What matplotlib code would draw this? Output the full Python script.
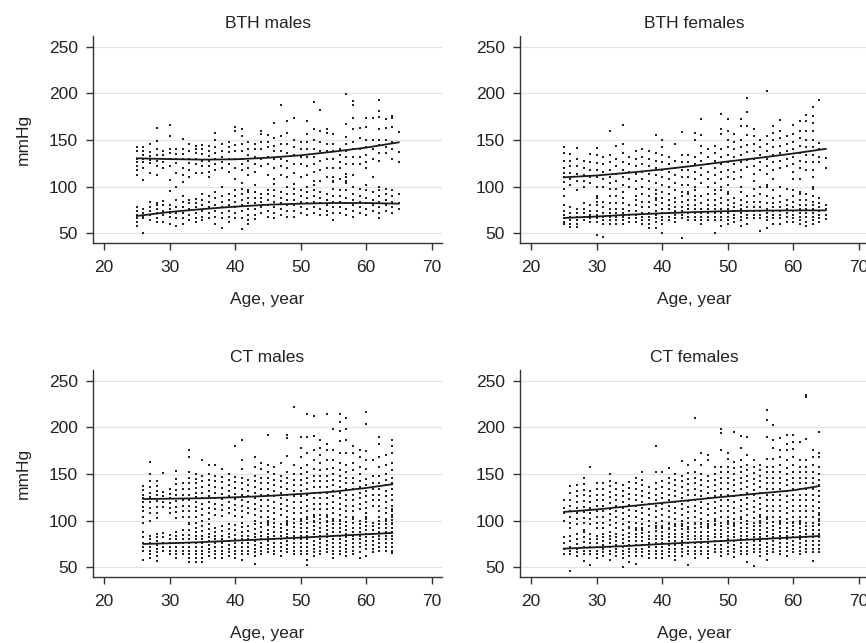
import matplotlib.pyplot as plt

plt.rcParams['font.family'] = ['Liberation Sans', 'DejaVu Sans']
plt.rcParams['font.size'] = 12.5

# ---- data: "age: values" per column ----
bth_m_sbp = [
    "25: 143 138 130 126 122 118 112", "26: 142 138 134 130 126 120 107",
    "27: 146 137 133 129 125 115", "28: 163 149 140 134 128 122 112",
    "29: 138 134 126 120", "30: 166 154 140 136 130 122 107 95",
    "31: 140 135 130 125 115 100", "32: 151 140 135 130 120 112 105",
    "33: 146 138 130 125 118 110", "34: 144 140 136 130 124 115",
    "35: 145 140 135 128 122 115", "36: 144 138 133 128 122 116 110",
    "37: 158 150 142 136 130 124 118", "38: 146 138 132 126 120 100",
    "39: 148 142 137 130 124 116", "40: 164 160 145 138 130 120 108",
    "41: 162 154 146 138 130 124 118 104", "42: 148 140 134 128 120 112 96",
    "43: 146 140 132 124 116 102", "44: 160 156 148 140 130 122",
    "45: 155 148 142 132 124 112", "46: 168 152 144 138 130 120 108 103",
    "47: 188 154 146 138 130 122 112", "48: 170 158 146 136 128 120 110 100",
    "49: 174 150 142 134 124 115 103", "50: 148 140 132 124 110",
    "51: 170 156 148 140 132 122 112", "52: 191 162 150 140 132 124 116 106",
    "53: 182 160 148 138 128 118 106", "54: 162 158 146 138 130 120 110",
    "55: 156 146 138 130 120 110 105", "56: 140 134 126 120 108",
    "57: 199 167 153 146 138 132 124 114 106", "58: 192 188 174 162 148 140 132 124 112",
    "59: 163 152 140 132 124", "60: 174 164 150 142 134 126 120",
    "61: 174 150 140 130 110", "62: 193 181 175 162 150 145 136 128",
    "63: 172 163 150 142 136", "64: 176 174 164 148 140 130",
    "65: 159 137 126",
]
bth_m_dbp = [
    "25: 78 74 70 66 62 58", "26: 76 72 68 66 50", "27: 84 78 74 70 64",
    "28: 83 80 76 72 66 62", "29: 85 80 74 70 62", "30: 95 80 76 72 68 60",
    "31: 86 78 72 66 58", "32: 90 84 78 72 66 60", "33: 86 82 76 70 64",
    "34: 87 82 78 72 66 62", "35: 92 86 80 74 68 64", "36: 90 84 78 72 66",
    "37: 94 88 80 74 68 60", "38: 100 90 84 78 72 66 56", "39: 92 86 80 74 68 62",
    "40: 96 90 84 78 72 66", "41: 98 92 86 80 74 66 55", "42: 94 88 82 76 70 64 60",
    "43: 102 94 88 82 76 70 65", "44: 92 88 84 78 72", "45: 96 92 86 80 74 68",
    "46: 96 90 84 78 72 66", "47: 94 88 82 76 70", "48: 100 92 86 80 74 68",
    "49: 98 92 86 80 74 68", "50: 96 90 84 78 72", "51: 100 94 88 82 76 70",
    "52: 102 96 90 84 78 72", "53: 94 88 82 76 70", "54: 92 86 80 74 70",
    "55: 106 98 90 84 78 72 64", "56: 96 90 84 78 72", "57: 110 104 96 88 82 76 70",
    "58: 100 92 86 80 74 68", "59: 98 90 84 78 72", "60: 102 96 88 82 76 70",
    "61: 110 94 86 80 74", "62: 100 96 90 84 78 72 66", "63: 98 92 86 80 74",
    "64: 96 90 84 78 72", "65: 92 82 76",
]

bth_f_sbp = [
    "25: 142 136 128 120 115 110 105 98 90", "26: 135 128 122 115 108 102",
    "27: 141 130 122 114 106 96", "28: 128 120 112 106 100",
    "29: 135 126 118 110 104", "30: 141 134 125 118 110 100 90 84",
    "31: 132 124 116 108 100", "32: 160 134 126 118 110 104 98",
    "33: 144 130 122 114 106 98 90", "34: 166 146 136 126 118 110 102 94",
    "35: 132 124 116 108 100", "36: 138 130 122 114 106 98 90",
    "37: 140 132 124 116 108 100 92", "38: 138 130 122 114 106 98 90 84",
    "39: 155 136 128 120 112 104 96 88", "40: 150 142 134 126 118 110 102 94",
    "41: 132 124 116 108 100 92", "42: 146 128 120 112 104 96 88",
    "43: 159 134 126 118 110 102 94", "44: 134 126 118 110 102 94",
    "45: 158 150 132 124 116 108 100 90", "46: 172 155 144 136 128 120 112 104",
    "47: 140 132 124 116 108 100 92", "48: 144 136 128 120 112 104 96",
    "49: 178 162 156 140 132 124 116 108 100", "50: 172 160 150 142 134 126 118 110 102 94",
    "51: 156 148 140 132 124 116 108", "52: 173 165 150 142 134 126 118 110 100",
    "53: 195 180 165 155 145 137 129 121", "54: 162 154 146 138 130 122 114 106 98",
    "55: 150 142 134 126 118 100", "56: 202 154 146 138 130 122 114 102",
    "57: 165 158 150 142 134 126 118 108", "58: 171 160 152 144 136 128 120 100",
    "59: 154 146 138 130 122 98", "60: 166 156 148 140 132 124 116 108",
    "61: 170 160 152 144 136 128 120 108 92", "62: 177 170 160 150 142 134 126 118 92",
    "63: 185 176 168 160 150 142 134 126 118 110 100", "64: 193 147 140 132 126",
    "65: 131 120",
]
bth_f_dbp = [
    "25: 80 74 70 66 62 60", "26: 78 72 68 64 60 57", "27: 76 72 68 64 60 57",
    "28: 82 76 72 68 64", "29: 80 74 70 66 62", "30: 88 80 74 70 66 62 48",
    "31: 84 78 72 68 64 60 46", "32: 90 82 76 72 68 64 60", "33: 82 76 72 68 64 60",
    "34: 88 82 76 72 68 64 60", "35: 80 74 70 66 62", "36: 86 80 74 70 66 62",
    "37: 92 84 78 72 68 64 60", "38: 90 84 78 72 68 64 60 56",
    "39: 92 86 80 74 70 66 62 56", "40: 88 82 76 72 68 64 60 50",
    "41: 86 80 76 72 68 64", "42: 84 78 74 70 66 62", "43: 90 84 78 74 70 66 45",
    "44: 92 86 80 76 72 68 64", "45: 96 86 80 76 72 68 64", "46: 90 82 76 72 68 64 60",
    "47: 86 80 76 72 68 64", "48: 92 86 80 76 72 68 64 50",
    "49: 96 88 82 76 72 68 64 58", "50: 92 86 80 76 72 68 64 60",
    "51: 88 82 78 74 70 66 62", "52: 94 86 80 76 72 68 64 58",
    "53: 90 84 78 74 70 66 60", "54: 98 90 84 78 74 70 66",
    "55: 92 84 78 74 70 66 52", "56: 100 90 82 76 72 68 64 56",
    "57: 96 88 82 78 74 70 66 60", "58: 90 84 78 74 70 66 60",
    "59: 98 86 80 76 72 68 62", "60: 96 90 84 78 74 70 66 62",
    "61: 94 86 80 76 72 68 64 60", "62: 92 86 80 76 72 68 62 58",
    "63: 98 90 84 80 76 72 68 64 60", "64: 88 82 78 74 70 66 62",
    "65: 80 76 70 65",
]

ct_m_sbp = [
    "26: 137 133 128 124 120 115 110 104 98", "27: 163 150 142 136 130 125 120 114 108 100",
    "28: 142 137 132 127 121 115 108 103", "29: 151 131 126 120 115",
    "30: 134 129 124 119 114 108", "31: 153 145 139 133 127 121 115 109 103",
    "32: 140 134 128 122 116 110 104", "33: 176 168 152 146 140 134 128 122 116 110 104 98",
    "34: 150 145 140 135 130 125 120 115 110 104 98", "35: 165 148 142 136 130 124 118 112 106 100",
    "36: 160 150 144 138 132 126 120 114 108 102", "37: 160 148 142 136 130 124 118 112 106",
    "38: 155 147 141 135 129 123 117 111 105", "39: 150 144 138 132 126 120 114 108",
    "40: 180 147 141 135 129 123 117 111 105", "41: 186 165 155 146 140 134 128 122 116 110 104",
    "42: 144 138 132 126 120 114 108", "43: 168 158 148 142 136 130 124 118 112 106 100",
    "44: 162 155 146 140 134 128 122 116 110 104",
    "45: 192 160 152 146 140 134 128 122 116 110 104 98",
    "46: 158 150 144 138 132 126 120 114 108 102", "47: 162 148 142 136 130 124 118 112 106",
    "48: 192 188 169 152 146 140 134 128 122 116 110 104 98",
    "49: 222 160 150 144 138 132 126 120 114 108 102",
    "50: 190 178 168 156 150 144 138 132 126 120 114 108 102",
    "51: 214 190 172 160 152 146 140 134 128 122 116 110 104 98",
    "52: 212 191 176 165 155 148 142 136 130 124 118 112 106 100",
    "53: 186 178 170 162 154 148 142 136 130 124 118 112 106",
    "54: 214 182 176 165 155 148 142 136 130 124 118 112 106 100",
    "55: 198 176 165 156 150 144 138 132 126 120 114 108 102",
    "56: 214 206 196 185 172 162 154 148 142 136 130 124 118 112 106 100",
    "57: 210 198 186 172 160 152 146 140 134 128 122 116 110 104",
    "58: 180 172 162 154 146 140 134 128 122 116 110 104",
    "59: 176 168 158 150 142 136 130 124 118 112",
    "60: 216 203 175 165 155 145 138 132 126 120 114 108 102",
    "61: 165 148 140 134 128 122 116", "62: 190 182 168 158 148 140 134 128 122 116 110 104",
    "63: 170 160 150 144 138 132 126 120 114 108 102",
    "64: 186 180 172 162 154 146 140 134 128 122 116 110 104 98",
]
ct_m_dbp = [
    "26: 88 82 76 72 68 58", "27: 84 80 76 72 68 64 60", "28: 86 82 78 74 70 66 62 57",
    "29: 87 82 76 72 68", "30: 85 80 76 72 68 64", "31: 88 84 80 76 72 68 64 60",
    "32: 90 85 80 76 72 68 64", "33: 96 90 85 80 76 72 68 64 60 56",
    "34: 92 88 84 80 76 72 68 64 60 56", "35: 94 89 84 80 76 72 68 64 60 56",
    "36: 96 91 86 82 78 74 70 66 62", "37: 92 88 84 80 76 72 68 64 60",
    "38: 94 89 84 80 76 72 68 64 60", "39: 96 91 86 82 78 74 70 66 62",
    "40: 95 90 85 80 76 72 68 64 60", "41: 98 93 88 84 80 76 72 68 64 58",
    "42: 94 89 84 80 76 72 68 64", "43: 96 91 86 82 78 74 70 66 62 54",
    "44: 98 93 88 84 80 76 72 68 64", "45: 100 95 90 86 82 78 74 70 66",
    "46: 98 93 88 84 80 76 72 68 64", "47: 96 92 88 84 80 76 72 68 62",
    "48: 100 95 90 86 82 78 74 70 66", "49: 98 93 88 84 80 76 72 68 64",
    "50: 100 96 92 88 84 80 76 72 68 64", "51: 102 97 92 88 84 80 76 72 68 64 58 52",
    "52: 104 99 94 90 86 82 78 74 70 66 62", "53: 102 97 92 88 84 80 76 72 68 64",
    "54: 104 99 94 90 86 82 78 74 70 66", "55: 100 96 92 88 84 80 76 72 68 64 60",
    "56: 106 101 96 92 88 84 80 76 72 68 64", "57: 104 99 94 90 86 82 78 74 70 66 62",
    "58: 102 97 92 88 84 80 76 72 68 64", "59: 100 96 92 88 84 80 76 72 66 60",
    "60: 104 99 94 90 86 82 78 74 70 62", "61: 98 94 90 86 82 78 74 70 66",
    "62: 100 96 92 88 84 80 76 72 68", "63: 100 96 92 88 84 80 76 72 68",
    "64: 112 106 101 96 92 88 84 80 76 72 68 65",
]

ct_f_sbp = [
    "25: 122 114 108 100", "26: 137 130 122 116 110 104 98 92",
    "27: 138 132 126 120 114 108 102 96", "28: 146 139 133 127 121 115 109 103 97 90",
    "29: 158 132 126 120 114 108 102 96", "30: 140 134 128 122 116 110 104 98 92",
    "31: 140 134 128 122 116 110 104 98 92", "32: 150 143 137 131 125 119 113 107 101 95",
    "33: 140 134 128 122 116 110 104 98 92", "34: 138 132 126 120 114 108 102 96 90",
    "35: 141 135 129 123 117 111 105 99 93 87", "36: 146 140 134 128 122 116 110 104 98 92 86",
    "37: 152 144 138 132 126 120 114 108 102 96 90", "38: 136 130 124 118 112 106 100 94 88",
    "39: 180 152 140 134 128 122 116 110 104 98 92", "40: 152 142 136 130 124 118 112 106 100 94 88",
    "41: 156 146 140 134 128 122 116 110 104 98 92", "42: 150 144 138 132 126 120 114 108 102 96 90",
    "43: 164 148 142 136 130 124 118 112 106 100 94",
    "44: 160 151 145 139 133 127 121 115 109 103 97 91",
    "45: 210 165 152 146 140 134 128 122 116 110 104 98",
    "46: 173 160 150 144 138 132 126 120 114 108 102 96",
    "47: 170 165 148 142 136 130 124 118 112 106 100 94",
    "48: 158 150 144 138 132 126 120 114 108 102 96",
    "49: 198 194 176 158 152 146 140 134 128 122 116 110 104 98",
    "50: 173 166 158 152 146 140 134 128 122 116 110 104 98",
    "51: 195 163 156 150 144 138 132 126 120 114 108 102 96",
    "52: 191 178 165 158 152 146 140 134 128 122 116 110 104 98",
    "53: 190 170 160 154 148 142 136 130 124 118 112 106 100",
    "54: 165 157 151 145 139 133 127 121 115 109 103 97",
    "55: 160 154 148 142 136 130 124 118 112 106 100 94",
    "56: 218 208 190 166 158 152 146 140 134 128 122 116 110 104 98",
    "57: 202 186 178 166 158 152 146 140 134 128 122 116 110 104",
    "58: 189 176 168 160 152 146 140 134 128 122 116 110 104 98",
    "59: 192 182 176 165 156 150 144 138 132 126 120 114 108",
    "60: 192 184 177 168 160 152 146 140 134 128 122 116 110 104 98",
    "61: 184 165 158 152 146 140 134 128 122 116 110 104 98",
    "62: 235 232 187 165 158 152 146 140 134 128 122 116 110 104 98",
    "63: 176 168 160 152 146 140 134 128 122 116 110 104 98",
    "64: 195 172 168 158 150 144 138 132 126 120 114 108 102 96",
]
ct_f_dbp = [
    "25: 82 76 70 64", "26: 84 78 72 68 64 46", "27: 86 80 75 70 66 62",
    "28: 88 82 77 72 68 64 57", "29: 86 80 76 72 68 64 53", "30: 84 80 76 72 68 64 60",
    "31: 86 82 78 74 70 66 62", "32: 88 84 80 76 72 68 64 58", "33: 86 82 78 74 70 66 62",
    "34: 90 85 80 76 72 68 64 60 50", "35: 92 87 82 78 74 70 66 62 56",
    "36: 90 86 82 78 74 70 66 62 54", "37: 92 87 82 78 74 70 66 62",
    "38: 88 84 80 76 72 68 64 60", "39: 94 89 84 80 76 72 68 64 60",
    "40: 92 88 84 80 76 72 68 64 60", "41: 96 91 86 82 78 74 70 66 62",
    "42: 94 90 86 82 78 74 70 66 62 58", "43: 96 91 86 82 78 74 70 66 62",
    "44: 98 93 88 84 80 76 72 68 64 53", "45: 96 92 88 84 80 76 72 68 64 60",
    "46: 98 93 88 84 80 76 72 68 64", "47: 96 92 88 84 80 76 72 68 64 60",
    "48: 100 95 90 86 82 78 74 70 66", "49: 98 94 90 86 82 78 74 70 66 62",
    "50: 100 96 92 88 84 80 76 72 68 64", "51: 98 94 90 86 82 78 74 70 66 61",
    "52: 102 97 92 88 84 80 76 72 68 64", "53: 100 96 92 88 84 80 76 72 68 64 56",
    "54: 98 94 90 86 82 78 74 70 66 51", "55: 104 98 94 90 86 82 78 74 70 66 62",
    "56: 102 97 92 88 84 80 76 72 68 64 58", "57: 104 99 94 90 86 82 78 74 70 66",
    "58: 100 96 92 88 84 80 76 72 68 64", "59: 102 97 92 88 84 80 76 72 68 62",
    "60: 104 99 94 90 86 82 78 74 70 66", "61: 100 96 92 88 84 80 76 72 68 64",
    "62: 98 94 90 86 82 78 74 70 66", "63: 104 98 94 90 86 82 78 74 70 66 57",
    "64: 106 100 95 90 86 82 78 74 70 66",
]

# fitted curves
fit_ages_bth = [25, 30, 35, 40, 45, 50, 55, 60, 65]
bth_m_sbp_fit = [130.4, 129.5, 129.0, 129.3, 131.0, 133.6, 137.5, 141.8, 147.5]
bth_m_dbp_fit = [68.6, 72.9, 76.0, 78.6, 80.7, 81.8, 82.5, 82.5, 81.8]
bth_f_sbp_fit = [110.0, 112.0, 115.0, 118.5, 122.5, 127.0, 131.0, 135.5, 140.5]
bth_f_dbp_fit = [66.5, 68.0, 70.0, 71.5, 72.8, 73.8, 74.3, 74.6, 74.6]
fit_ages_ct_m = [26, 30, 35, 40, 45, 50, 55, 60, 64]
ct_m_sbp_fit = [123.2, 123.5, 124.0, 125.0, 126.5, 128.6, 131.0, 135.0, 139.0]
ct_m_dbp_fit = [75.0, 75.8, 77.0, 78.6, 80.2, 81.8, 83.6, 85.4, 86.8]
fit_ages_ct_f = [25, 30, 35, 40, 45, 50, 55, 60, 64]
ct_f_sbp_fit = [109.3, 112.0, 115.5, 119.0, 122.5, 126.0, 129.3, 132.5, 137.0]
ct_f_dbp_fit = [70.0, 71.5, 73.0, 75.0, 76.8, 78.5, 80.3, 82.0, 83.5]


def to_points(rows):
    xs, ys = [], []
    for row in rows:
        age, vals = row.split(':')
        for v in vals.split():
            xs.append(int(age))
            ys.append(float(v))
    return xs, ys


panels = [
    ("BTH males", bth_m_sbp, bth_m_dbp, fit_ages_bth, bth_m_sbp_fit, bth_m_dbp_fit),
    ("BTH females", bth_f_sbp, bth_f_dbp, fit_ages_bth, bth_f_sbp_fit, bth_f_dbp_fit),
    ("CT males", ct_m_sbp, ct_m_dbp, fit_ages_ct_m, ct_m_sbp_fit, ct_m_dbp_fit),
    ("CT females", ct_f_sbp, ct_f_dbp, fit_ages_ct_f, ct_f_sbp_fit, ct_f_dbp_fit),
]

fig = plt.figure(figsize=(8.66, 6.43), dpi=100)
positions = [
    [0.1074, 0.622, 0.403, 0.322],
    [0.6005, 0.622, 0.403, 0.322],
    [0.1074, 0.1026, 0.403, 0.322],
    [0.6005, 0.1026, 0.403, 0.322],
]

for i, (title, sbp, dbp, fit_x, sbp_fit, dbp_fit) in enumerate(panels):
    ax = fig.add_axes(positions[i])
    for rows in (sbp, dbp):
        xs, ys = to_points(rows)
        ax.scatter(xs, ys, s=0.9, marker='s', c='#222222', linewidths=0, zorder=2)
    ax.plot(fit_x, sbp_fit, color='#1a1a1a', lw=1.3, zorder=3)
    ax.plot(fit_x, dbp_fit, color='#1a1a1a', lw=1.3, zorder=3)

    ax.set_xlim(18.3, 71.6)
    ax.set_ylim(39.6, 261.4)
    ax.set_xticks([20, 30, 40, 50, 60, 70])
    ax.set_yticks([50, 100, 150, 200, 250])
    ax.yaxis.grid(True, color='#e3e3e3', lw=0.9)
    ax.set_axisbelow(True)
    for s in ('top', 'right'):
        ax.spines[s].set_visible(False)
    for s in ('left', 'bottom'):
        ax.spines[s].set_color('#333333')
        ax.spines[s].set_linewidth(1.0)
    ax.tick_params(length=5, width=1, color='#333333', labelcolor='#222222')
    ax.tick_params(axis='x', pad=7)
    ax.tick_params(axis='y', pad=6)

    ax.set_title(title, fontsize=12.5, pad=6, color='#222222')
    ax.set_xlabel("Age, year", va='center', color='#222222')
    ax.xaxis.set_label_coords(0.5, -0.275)
    if i % 2 == 0:
        ax.set_ylabel("mmHg", va='center', color='#222222')
        ax.yaxis.set_label_coords(-0.2, 0.5)

fig.savefig("out.png", dpi=100)
